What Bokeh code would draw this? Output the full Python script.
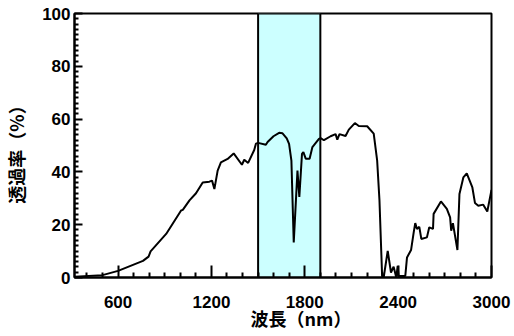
import math
from bokeh.plotting import figure
from bokeh.models import Range1d, FixedTicker
from bokeh.embed import file_html
from bokeh.resources import INLINE

# Spectrum
wavelength = [322, 500, 600, 760, 796, 809, 909, 1005, 1016, 1059, 1101, 1144, 1187, 1204,
              1219, 1240, 1261, 1304, 1343, 1396, 1411, 1436, 1475, 1486, 1500, 1550, 1561,
              1599, 1635, 1657, 1684, 1699, 1714, 1729, 1753, 1765, 1782, 1791, 1806, 1831,
              1849, 1891, 1902, 1923, 1966, 1998, 2009, 2023, 2062, 2083, 2122, 2147, 2201,
              2243, 2265, 2280, 2297, 2307, 2333, 2354, 2371, 2388, 2397, 2403, 2446, 2457,
              2483, 2500, 2510, 2521, 2536, 2549, 2585, 2600, 2624, 2628, 2675, 2713, 2734,
              2741, 2752, 2781, 2794, 2819, 2841, 2877, 2894, 2915, 2947, 2973, 3000]
transmittance = [0.3, 0.9, 2.5, 6.3, 7.9, 9.9, 16.5, 25.4, 25.6, 29.2, 31.9, 36.0, 36.3, 36.7,
                 33.5, 40.5, 43.6, 44.9, 47.0, 42.7, 44.6, 43.4, 48.3, 50.7, 51.0, 50.3, 51.3,
                 53.5, 54.8, 54.6, 52.7, 50.6, 44.3, 13.3, 40.5, 30.5, 46.8, 47.5, 45.0, 45.0,
                 49.4, 52.5, 52.8, 52.0, 53.5, 54.3, 52.2, 54.3, 53.6, 56.0, 58.5, 57.4, 57.3,
                 54.5, 44.4, 29.2, 0.6, 0.0, 10.1, 1.9, 4.1, 0.0, 4.4, 0.6, 0.6, 7.6,
                 10.4, 17.1, 20.6, 18.4, 19.2, 14.6, 15.2, 19.0, 18.4, 24.1, 28.8, 26.0, 22.8,
                 17.7, 20.6, 10.4, 31.6, 37.9, 39.4, 34.1, 28.2, 27.2, 27.6, 25.0, 33.2]

band_left = [1500]
band_right = [1900]
band_bottom = [0]
band_top = [100]

x_major = [600, 1200, 1800, 2400, 3000]
x_minor = [v for v in range(400, 3000, 100) if v not in x_major]
y_major = [0, 20, 40, 60, 80, 100]
y_minor = [v for v in range(0, 101, 2) if v not in y_major]

x_title = "\u3000\u3000波長（nm）"
y_title = "透過率（%）\u3000"

TITLE_FONT = "Noto Sans CJK JP"
TICK_FONT = "Liberation Sans"

p = figure(width=514, height=336, output_backend="svg", toolbar_location=None,
           x_range=Range1d(320, 3000), y_range=Range1d(0, 100),
           min_border_left=73, min_border_right=23, min_border_top=13, min_border_bottom=59)
p.grid.visible = False
p.outline_line_color = "black"
p.outline_line_width = 2
p.background_fill_color = "white"
p.border_fill_color = "white"

p.quad(left=band_left, right=band_right, bottom=band_bottom, top=band_top,
       fill_color="#ccffff", line_color="black", line_width=2)
p.line(wavelength, transmittance, line_color="black", line_width=2)

p.xaxis.ticker = FixedTicker(ticks=x_major, minor_ticks=x_minor)
p.yaxis.ticker = FixedTicker(ticks=y_major, minor_ticks=y_minor)

for ax in (p.xaxis[0], p.yaxis[0]):
    ax.axis_line_width = 2
    ax.axis_line_color = "black"
    ax.major_tick_line_width = 2
    ax.minor_tick_line_width = 2
    ax.major_tick_out = 0
    ax.minor_tick_out = 0
    ax.major_label_text_font = TICK_FONT
    ax.major_label_text_font_style = "bold"
    ax.major_label_text_font_size = "17px"
    ax.major_label_text_color = "black"
    ax.axis_label_text_font = TITLE_FONT
    ax.axis_label_text_font_style = "bold"
    ax.axis_label_text_font_size = "18px"
    ax.axis_label_text_color = "black"

p.xaxis.major_tick_in = 12
p.xaxis.minor_tick_in = 5
p.xaxis.major_label_standoff = 18
p.xaxis.axis_label = x_title
p.xaxis.axis_label_standoff = -6

p.yaxis.major_tick_in = 8
p.yaxis.minor_tick_in = 4
p.yaxis.major_label_standoff = 4
p.yaxis.axis_label = y_title
p.yaxis.axis_label_standoff = 10

open("out.html", "w").write(file_html(p, INLINE))
